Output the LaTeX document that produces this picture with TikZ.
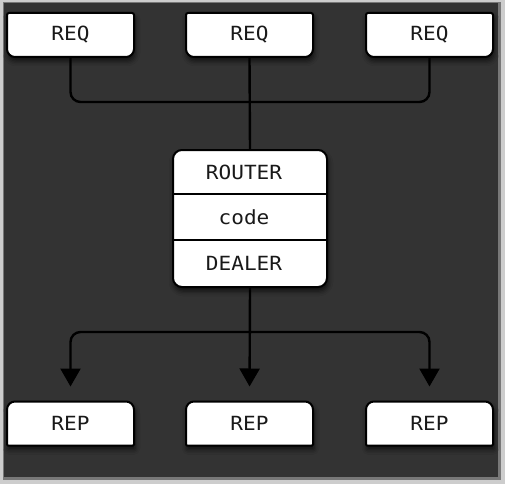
\documentclass[tikz,border=0pt]{standalone}
\usepackage{fontspec}
\setmonofont{DejaVu Sans Mono}[FakeStretch=1.08]
\usetikzlibrary{arrows.meta,backgrounds,shadows.blur}
\definecolor{bgdark}{RGB}{51,51,51}
\definecolor{framegray}{RGB}{205,205,205}
\definecolor{edgegray}{RGB}{120,120,120}
\definecolor{txt}{RGB}{25,25,25}
\newcommand\reqpath[1]{([yshift=-2pt]#1.north west) arc[start angle=180,end angle=90,radius=2pt] -- ([xshift=-2pt]#1.north east) arc[start angle=90,end angle=0,radius=2pt] -- ([yshift=8pt]#1.south east) arc[start angle=0,end angle=-90,radius=8pt] -- ([xshift=8pt]#1.south west) arc[start angle=270,end angle=180,radius=8pt] -- cycle}
\newcommand\reppath[1]{([yshift=-8pt]#1.north west) arc[start angle=180,end angle=90,radius=8pt] -- ([xshift=-8pt]#1.north east) arc[start angle=90,end angle=0,radius=8pt] -- ([yshift=1pt]#1.south east) arc[start angle=0,end angle=-90,radius=1pt] -- ([xshift=1pt]#1.south west) arc[start angle=270,end angle=180,radius=1pt] -- cycle}
\begin{document}
\begin{tikzpicture}[x=1pt,y=1pt,
  boxtext/.style={inner sep=0pt, outer sep=0pt, font=\ttfamily\fontsize{19.5}{22}\selectfont, text=txt},
  box/.style={boxtext, minimum width=127pt, minimum height=44pt},
  shapestyle/.style={fill=white, draw=black, line width=2pt,
    blur shadow={shadow xshift=1pt, shadow yshift=-4pt, shadow blur radius=5pt, shadow opacity=70}},
  conn/.style={draw=black, line width=2.4pt},
  arrowtip/.style={-{Triangle[width=20pt,length=18pt]}, shorten >=15pt}
]
\useasboundingbox (0,0) rectangle (505,-484);
% nodes
\node[box] (req1) at (70.5,-35) {REQ};
\node[box] (req2) at (249.5,-35) {REQ};
\node[box] (req3) at (429.5,-35) {REQ};
\node[box] (rep1) at (70.5,-423.5) {REP};
\node[box] (rep2) at (249.5,-423.5) {REP};
\node[box] (rep3) at (429.5,-423.5) {REP};
\node[inner sep=0pt, outer sep=0pt, minimum width=154pt, minimum height=137pt] (router) at (250,-218.5) {};
\node[boxtext] (rt) at (244,-172) {ROUTER};
\node[boxtext] (cd) at (244,-217) {code};
\node[boxtext] (dl) at (244,-263) {DEALER};
\begin{scope}[on background layer]
  \fill[framegray] (0,0) rectangle (505,-484);
  \fill[edgegray] (3,-2) rectangle (501,-480);
  \fill[bgdark] (4,-3) rectangle (498,-477);
  \filldraw[shapestyle] \reqpath{req1};
  \filldraw[shapestyle] \reqpath{req2};
  \filldraw[shapestyle] \reqpath{req3};
  \filldraw[shapestyle] \reppath{rep1};
  \filldraw[shapestyle] \reppath{rep2};
  \filldraw[shapestyle] \reppath{rep3};
  \filldraw[shapestyle, rounded corners=9pt] (router.south west) rectangle (router.north east);
  \draw[black, line width=2pt] ([yshift=-44pt]router.north west) -- ([yshift=-44pt]router.north east);
  \draw[black, line width=2pt] ([yshift=-90pt]router.north west) -- ([yshift=-90pt]router.north east);
\end{scope}
% connectors
\coordinate (topbar) at (250,-102);
\coordinate (botbar) at (250,-332);
\draw[conn, rounded corners=10pt] (req1.south) |- (topbar) -| (req3.south);
\draw[conn] (req2.south) -- (router.north);
\draw[conn, arrowtip] (router.south) -- (rep2.north);
\draw[conn, rounded corners=10pt, arrowtip] (botbar) -| (rep1.north);
\draw[conn, rounded corners=10pt, arrowtip] (botbar) -| (rep3.north);
\end{tikzpicture}
\end{document}
